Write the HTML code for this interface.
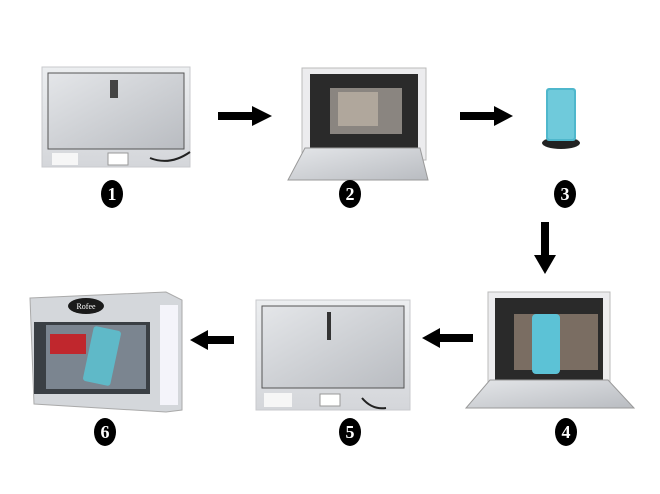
<!DOCTYPE html>
<html><head><style>body{margin:0;background:#fff}svg{display:block}</style></head><body>
<svg width="660" height="494" viewBox="0 0 660 494" xmlns="http://www.w3.org/2000/svg" font-family="Liberation Serif, serif">
<defs>
<linearGradient id="al" x1="0" y1="0" x2="1" y2="1"><stop offset="0" stop-color="#e4e6e9"/><stop offset="1" stop-color="#b9bcc1"/></linearGradient>
<linearGradient id="fr" x1="0" y1="0" x2="0" y2="1"><stop offset="0" stop-color="#eceef0"/><stop offset="1" stop-color="#d4d6da"/></linearGradient>
</defs>
<!-- 1 -->
<rect x="42" y="67" width="148" height="100" fill="url(#fr)" stroke="#c8cacd"/>
<rect x="48" y="73" width="136" height="76" fill="url(#al)" stroke="#555" stroke-width="1"/>
<rect x="110" y="80" width="8" height="18" fill="#444"/>
<rect x="108" y="153" width="20" height="12" fill="#fff" stroke="#999"/>
<path d="M150 158 q20 8 40 -6" stroke="#222" stroke-width="2" fill="none"/>
<rect x="52" y="153" width="26" height="12" fill="#f6f6f6"/>
<!-- 2 -->
<rect x="302" y="68" width="124" height="92" fill="#ececee" stroke="#bbb"/>
<rect x="310" y="74" width="108" height="84" fill="#2a2a2a"/>
<rect x="330" y="88" width="72" height="46" fill="#8a8580"/>
<rect x="338" y="92" width="40" height="34" fill="#b0a79c"/>
<polygon points="305,148 420,148 428,180 288,180" fill="url(#al)" stroke="#999"/>
<!-- 3 -->
<ellipse cx="561" cy="143" rx="19" ry="6" fill="#222"/>
<rect x="546" y="88" width="30" height="53" rx="3" fill="#4fb7cc"/>
<rect x="548" y="90" width="26" height="49" rx="2" fill="#6fcadb"/>
<!-- arrows -->
<g fill="#000">
<polygon points="218,112 252,112 252,106 272,116 252,126 252,120 218,120"/>
<polygon points="460,112 494,112 494,106 513,116 494,126 494,120 460,120"/>
<polygon points="541,222 549,222 549,255 556,255 545,274 534,255 541,255"/>
<polygon points="473,334 440,334 440,328 422,338 440,348 440,342 473,342"/>
<polygon points="234,336 208,336 208,330 190,340 208,350 208,344 234,344"/>
</g>
<!-- 4 -->
<rect x="488" y="292" width="122" height="96" fill="#ececee" stroke="#bbb"/>
<rect x="495" y="298" width="108" height="90" fill="#2a2a2a"/>
<rect x="514" y="314" width="84" height="56" fill="#7a6d62"/>
<rect x="532" y="314" width="28" height="60" rx="4" fill="#5cc2d6"/>
<polygon points="490,380 608,380 634,408 466,408" fill="url(#al)" stroke="#999"/>
<!-- 5 -->
<rect x="256" y="300" width="154" height="110" fill="url(#fr)" stroke="#c8cacd"/>
<rect x="262" y="306" width="142" height="82" fill="url(#al)" stroke="#555"/>
<rect x="327" y="312" width="4" height="28" fill="#333"/>
<rect x="320" y="394" width="20" height="12" fill="#fff" stroke="#999"/>
<rect x="264" y="393" width="28" height="14" fill="#f6f6f6"/>
<path d="M362 398 q10 12 24 10" stroke="#222" stroke-width="2" fill="none"/>
<!-- 6 -->
<polygon points="30,298 166,292 182,300 182,410 166,412 34,404" fill="#d4d7db" stroke="#aaa"/>
<rect x="34" y="322" width="116" height="72" fill="#3a3f44"/>
<rect x="46" y="325" width="100" height="64" fill="#7b8590"/>
<rect x="50" y="334" width="36" height="20" fill="#c0272d"/>
<rect x="88" y="328" width="28" height="56" rx="3" fill="#5fb9c8" transform="rotate(12 102 356)"/>
<rect x="160" y="305" width="18" height="100" fill="#f4f4fa"/>
<ellipse cx="86" cy="306" rx="18" ry="8" fill="#1a1a1a"/>
<text x="86" y="309" font-size="8" fill="#fff" text-anchor="middle">Rofee</text>
<!-- numbers -->
<g font-size="18" font-weight="bold" fill="#fff" text-anchor="middle">
<ellipse cx="112" cy="194" rx="11" ry="14" fill="#000"/><text x="112" y="200">1</text>
<ellipse cx="350" cy="194" rx="11" ry="14" fill="#000"/><text x="350" y="200">2</text>
<ellipse cx="565" cy="194" rx="11" ry="14" fill="#000"/><text x="565" y="200">3</text>
<ellipse cx="105" cy="432" rx="11" ry="14" fill="#000"/><text x="105" y="438">6</text>
<ellipse cx="350" cy="432" rx="11" ry="14" fill="#000"/><text x="350" y="438">5</text>
<ellipse cx="566" cy="432" rx="11" ry="14" fill="#000"/><text x="566" y="438">4</text>
</g>
</svg>
</body></html>
